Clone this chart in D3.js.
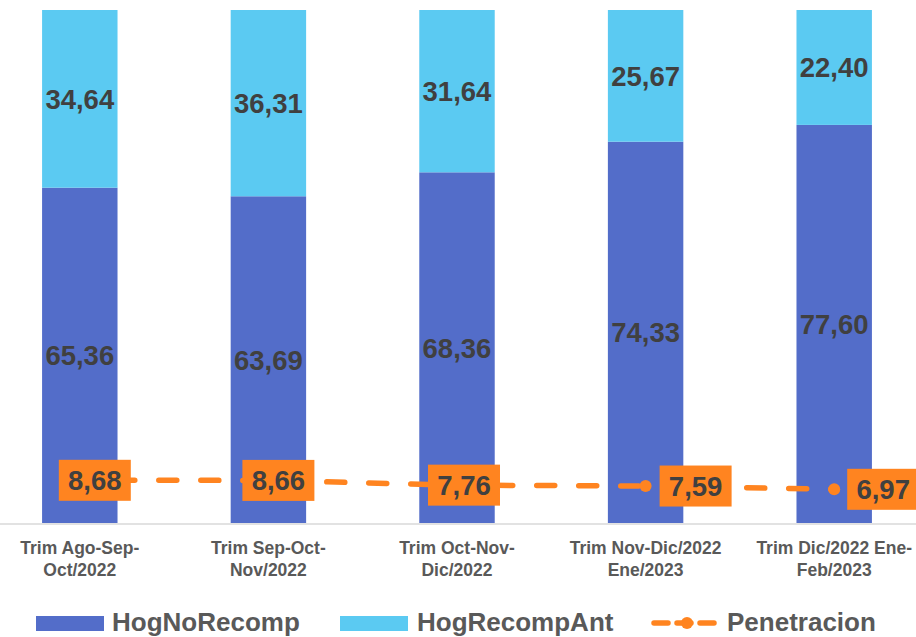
<!DOCTYPE html>
<html><head><meta charset="utf-8">
<script src="https://cdn.jsdelivr.net/npm/d3@7"></script>
<style>
html,body{margin:0;padding:0;background:#fff;}
svg{display:block;font-family:"Liberation Sans",Arial,sans-serif;}
</style></head>
<body><svg id="c" width="916" height="637"></svg>
<script>
const categories = [
  ["Trim Ago-Sep-","Oct/2022"],
  ["Trim Sep-Oct-","Nov/2022"],
  ["Trim Oct-Nov-","Dic/2022"],
  ["Trim Nov-Dic/2022","Ene/2023"],
  ["Trim Dic/2022 Ene-","Feb/2023"]
];
const hogNoRecomp = [65.36, 63.69, 68.36, 74.33, 77.60];
const hogRecompAnt = [34.64, 36.31, 31.64, 25.67, 22.40];
const penetracion = [8.68, 8.66, 7.76, 7.59, 6.97];
const seriesNames = ["HogNoRecomp","HogRecompAnt","Penetracion"];

// layout (not data)
const labelDx = [15, 10, 7, 50, 49];
const C_DARK = "#536DC9", C_LIGHT = "#5BCAF2", C_ORANGE = "#FF8420";
const fmt = v => v.toFixed(2).replace(".", ",");

const svg = d3.select("#c");
const x = d3.scaleBand().domain(d3.range(categories.length)).range([-14.5, 928.5]).paddingInner(0.6).paddingOuter(0.3);
const y = d3.scaleLinear().domain([0, 100]).range([523, 10]);
const y2 = d3.scaleLinear().domain([0, 98]).range([526, 10]);

// baseline
svg.append("line").attr("x1", 0).attr("x2", 916).attr("y1", 524).attr("y2", 524)
  .attr("stroke", "#D9D9D9").attr("stroke-width", 1.5);

const stack = d3.stack().keys([0, 1]).value((d, k) => k === 0 ? d.a : d.b)(
  hogNoRecomp.map((a, i) => ({a, b: hogRecompAnt[i], i})));
const colors = [C_DARK, C_LIGHT];
stack.forEach((layer, li) => {
  const g = svg.append("g");
  g.selectAll("rect").data(layer).join("rect")
    .attr("x", (d, i) => x(i)).attr("width", x.bandwidth())
    .attr("y", d => y(d[1])).attr("height", d => y(d[0]) - y(d[1]))
    .attr("fill", colors[li]);
  g.selectAll("text").data(layer).join("text")
    .attr("x", (d, i) => x(i) + x.bandwidth() / 2)
    .attr("y", d => (y(d[0]) + y(d[1])) / 2)
    .attr("dy", "0.36em").attr("text-anchor", "middle")
    .attr("font-size", 27.5).attr("font-weight", "bold").attr("fill", "#404040")
    .text(d => fmt(d[1] - d[0]));
});

// x labels
const xl = svg.append("g");
categories.forEach((lines, i) => {
  const t = xl.append("text").attr("text-anchor", "middle").attr("font-size", 17.5)
    .attr("font-weight", "bold").attr("fill", "#595959");
  lines.forEach((s, j) => t.append("tspan").attr("x", x(i) + x.bandwidth() / 2)
    .attr("y", 554 + j * 22).text(s));
});

// penetracion line
const cx = i => x(i) + x.bandwidth() / 2;
svg.append("path").datum(penetracion)
  .attr("d", d3.line().x((d, i) => cx(i)).y(d => y2(d)))
  .attr("fill", "none").attr("stroke", C_ORANGE).attr("stroke-width", 5.5)
  .attr("stroke-linecap", "round").attr("stroke-dasharray", "18,24").attr("stroke-dashoffset", 5);
svg.append("g").selectAll("circle").data(penetracion).join("circle")
  .attr("cx", (d, i) => cx(i)).attr("cy", d => y2(d)).attr("r", 6).attr("fill", C_ORANGE);
const lg = svg.append("g").selectAll("g").data(penetracion).join("g")
  .attr("transform", (d, i) => `translate(${cx(i) + labelDx[i]},${y2(d)})`);
lg.append("rect").attr("x", -36).attr("y", -20.5).attr("width", 72).attr("height", 41).attr("fill", C_ORANGE);
lg.append("text").attr("text-anchor", "middle").attr("dy", "0.36em")
  .attr("font-size", 27.5).attr("font-weight", "bold").attr("fill", "#404040").text(d => fmt(d));

// legend
const leg = svg.append("g").attr("font-size", 26).attr("font-weight", "bold").attr("fill", "#595959");
leg.append("rect").attr("x", 36).attr("y", 616).attr("width", 68).attr("height", 15).attr("fill", C_DARK);
leg.append("text").attr("x", 112).attr("y", 631).text(seriesNames[0]);
leg.append("rect").attr("x", 340).attr("y", 616).attr("width", 68).attr("height", 15).attr("fill", C_LIGHT);
leg.append("text").attr("x", 417).attr("y", 631).text(seriesNames[1]);
leg.append("line").attr("x1", 654).attr("x2", 716).attr("y1", 623).attr("y2", 623)
  .attr("stroke", C_ORANGE).attr("stroke-width", 5.5).attr("stroke-linecap", "round").attr("stroke-dasharray", "14,9");
leg.append("circle").attr("cx", 687).attr("cy", 623).attr("r", 6).attr("fill", C_ORANGE);
leg.append("text").attr("x", 727).attr("y", 631).text(seriesNames[2]);
</script></body></html>
